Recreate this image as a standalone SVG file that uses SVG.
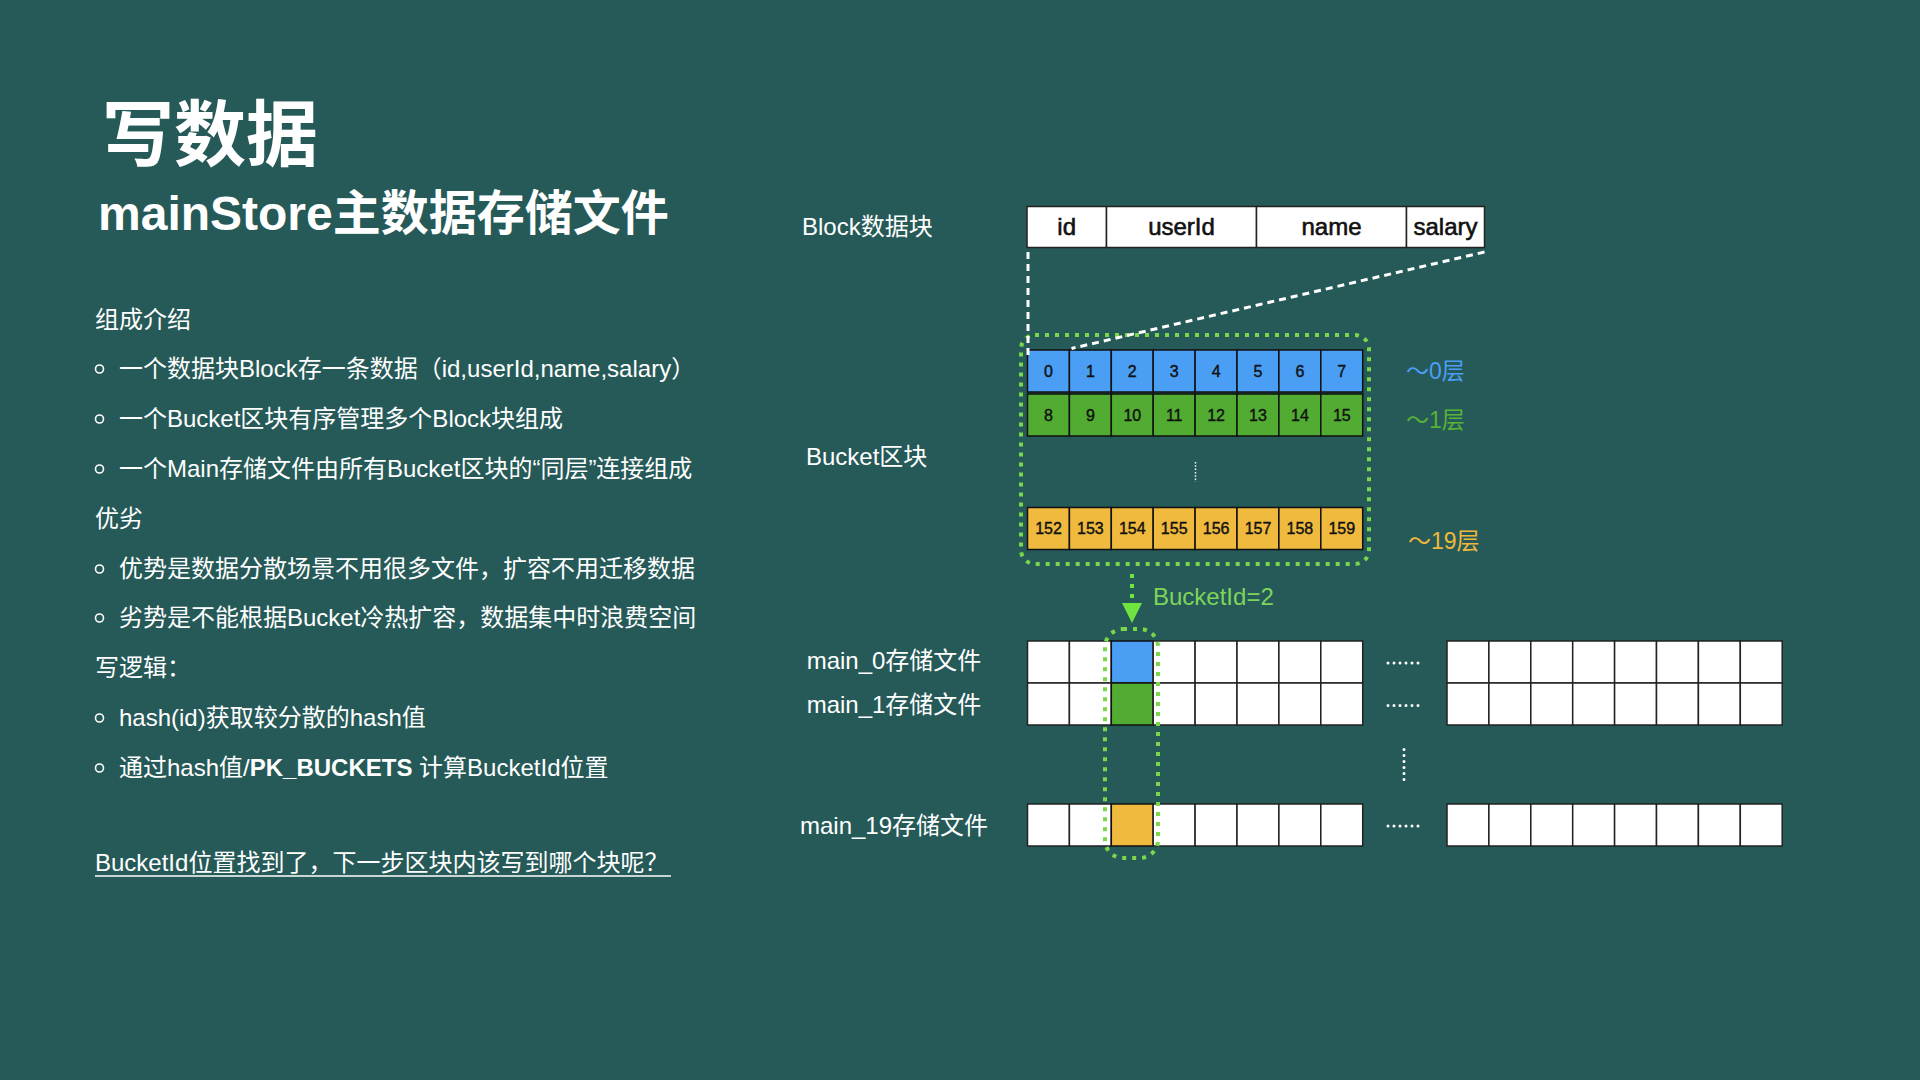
<svg xmlns="http://www.w3.org/2000/svg" width="1920" height="1080" viewBox="0 0 1920 1080">
<defs>
<style>
text{font-family:"Liberation Sans","Noto Sans CJK SC",sans-serif;fill:#ffffff}
.title{font-size:72px;font-weight:bold}
.sub{font-size:48px;font-weight:bold}
.body{font-size:24px}
.lbl{font-size:24px}
.hdr{font-size:24px;fill:#111;text-anchor:middle;stroke:#111;stroke-width:0.6}
.num{font-size:16px;fill:#111;text-anchor:middle;stroke:#111;stroke-width:0.4}
.cellw{fill:#ffffff;stroke:#222;stroke-width:1.5}
.cb{fill:#4a9ef4;stroke:#111;stroke-width:1.5}
.cg{fill:#52ac32;stroke:#111;stroke-width:1.5}
.co{fill:#efba3e;stroke:#111;stroke-width:1.5}
.bullet{fill:none;stroke:#fff;stroke-width:1.6}
.gdot{fill:none;stroke:#7ad64a;stroke-width:4;stroke-dasharray:4 6}
.wdash{fill:none;stroke:#fff;stroke-width:3;stroke-dasharray:7 5}
.dots{stroke:#fff;stroke-width:3;stroke-linecap:round;stroke-dasharray:0 6}
</style>
<marker id="ah" markerWidth="20" markerHeight="20" refX="19" refY="10" orient="auto" markerUnits="userSpaceOnUse" viewBox="0 0 20 20">
<path d="M0,0 L20,10 L0,20 Z" fill="#6fe33f"/>
</marker>
</defs>
<rect x="0" y="0" width="1920" height="1080" fill="#265a58"/>

<g id="left-text">
<text class="title" x="102" y="160">写数据</text>
<text class="sub" x="98" y="230">mainStore主数据存储文件</text>
<text class="body" x="95" y="328">组成介绍</text>
<circle class="bullet" cx="99.5" cy="369" r="4"/>
<text class="body" x="119" y="377">一个数据块Block存一条数据（id,userId,name,salary）</text>
<circle class="bullet" cx="99.5" cy="419" r="4"/>
<text class="body" x="119" y="427">一个Bucket区块有序管理多个Block块组成</text>
<circle class="bullet" cx="99.5" cy="469" r="4"/>
<text class="body" x="119" y="477">一个Main存储文件由所有Bucket区块的“同层”连接组成</text>
<text class="body" x="95" y="527">优劣</text>
<circle class="bullet" cx="99.5" cy="569" r="4"/>
<text class="body" x="119" y="577">优势是数据分散场景不用很多文件，扩容不用迁移数据</text>
<circle class="bullet" cx="99.5" cy="618" r="4"/>
<text class="body" x="119" y="626">劣势是不能根据Bucket冷热扩容，数据集中时浪费空间</text>
<text class="body" x="95" y="676">写逻辑：</text>
<circle class="bullet" cx="99.5" cy="718" r="4"/>
<text class="body" x="119" y="726">hash(id)获取较分散的hash值</text>
<circle class="bullet" cx="99.5" cy="768" r="4"/>
<text class="body" x="119" y="776">通过hash值/<tspan font-weight="bold">PK_BUCKETS</tspan> 计算BucketId位置</text>
<text class="body" x="95" y="871">BucketId位置找到了，下一步区块内该写到哪个块呢？</text>
<line x1="95" y1="876" x2="671" y2="876" stroke="#fff" stroke-width="1.5"/>
</g>

<g id="labels">
<text class="lbl" x="802" y="235">Block数据块</text>
<text class="lbl" x="806" y="465">Bucket区块</text>
<text class="lbl" x="894" y="669" text-anchor="middle">main_0存储文件</text>
<text class="lbl" x="894" y="713" text-anchor="middle">main_1存储文件</text>
<text class="lbl" x="894" y="834" text-anchor="middle">main_19存储文件</text>
<text x="1406" y="379" font-size="23" style="fill:#4a9ef4">～0层</text>
<text x="1406" y="428" font-size="23" style="fill:#58b236">～1层</text>
<text x="1408" y="549" font-size="23" style="fill:#efb83c">～19层</text>
</g>

<g id="block-table">
<rect class="cellw" x="1027" y="206.5" width="79.5" height="41"/>
<rect class="cellw" x="1106.5" y="206.5" width="150" height="41"/>
<rect class="cellw" x="1256.5" y="206.5" width="150" height="41"/>
<rect class="cellw" x="1406.5" y="206.5" width="78" height="41"/>
<text class="hdr" x="1066.7" y="235">id</text>
<text class="hdr" x="1181.5" y="235">userId</text>
<text class="hdr" x="1331.5" y="235">name</text>
<text class="hdr" x="1445.5" y="235">salary</text>
</g>

<g id="bucket">
<g id="row0">
<rect class="cb" x="1027.5" y="350" width="41.9" height="42"/>
<rect class="cb" x="1069.4" y="350" width="41.9" height="42"/>
<rect class="cb" x="1111.3" y="350" width="41.9" height="42"/>
<rect class="cb" x="1153.2" y="350" width="41.9" height="42"/>
<rect class="cb" x="1195.1" y="350" width="41.9" height="42"/>
<rect class="cb" x="1237" y="350" width="41.9" height="42"/>
<rect class="cb" x="1278.9" y="350" width="41.9" height="42"/>
<rect class="cb" x="1320.8" y="350" width="41.9" height="42"/>
<text class="num" x="1048.5" y="377">0</text>
<text class="num" x="1090.4" y="377">1</text>
<text class="num" x="1132.3" y="377">2</text>
<text class="num" x="1174.2" y="377">3</text>
<text class="num" x="1216.1" y="377">4</text>
<text class="num" x="1258" y="377">5</text>
<text class="num" x="1299.9" y="377">6</text>
<text class="num" x="1341.8" y="377">7</text>
</g>
<g id="row1">
<rect class="cg" x="1027.5" y="394" width="41.9" height="42"/>
<rect class="cg" x="1069.4" y="394" width="41.9" height="42"/>
<rect class="cg" x="1111.3" y="394" width="41.9" height="42"/>
<rect class="cg" x="1153.2" y="394" width="41.9" height="42"/>
<rect class="cg" x="1195.1" y="394" width="41.9" height="42"/>
<rect class="cg" x="1237" y="394" width="41.9" height="42"/>
<rect class="cg" x="1278.9" y="394" width="41.9" height="42"/>
<rect class="cg" x="1320.8" y="394" width="41.9" height="42"/>
<text class="num" x="1048.5" y="421">8</text>
<text class="num" x="1090.4" y="421">9</text>
<text class="num" x="1132.3" y="421">10</text>
<text class="num" x="1174.2" y="421">11</text>
<text class="num" x="1216.1" y="421">12</text>
<text class="num" x="1258" y="421">13</text>
<text class="num" x="1299.9" y="421">14</text>
<text class="num" x="1341.8" y="421">15</text>
</g>
<line x1="1195.5" y1="462" x2="1195.5" y2="482" stroke="#fff" stroke-width="1.5" stroke-dasharray="1.5 1.8"/>
<g id="row19">
<rect class="co" x="1027.5" y="507.5" width="41.9" height="42"/>
<rect class="co" x="1069.4" y="507.5" width="41.9" height="42"/>
<rect class="co" x="1111.3" y="507.5" width="41.9" height="42"/>
<rect class="co" x="1153.2" y="507.5" width="41.9" height="42"/>
<rect class="co" x="1195.1" y="507.5" width="41.9" height="42"/>
<rect class="co" x="1237" y="507.5" width="41.9" height="42"/>
<rect class="co" x="1278.9" y="507.5" width="41.9" height="42"/>
<rect class="co" x="1320.8" y="507.5" width="41.9" height="42"/>
<text class="num" x="1048.5" y="534">152</text>
<text class="num" x="1090.4" y="534">153</text>
<text class="num" x="1132.3" y="534">154</text>
<text class="num" x="1174.2" y="534">155</text>
<text class="num" x="1216.1" y="534">156</text>
<text class="num" x="1258" y="534">157</text>
<text class="num" x="1299.9" y="534">158</text>
<text class="num" x="1341.8" y="534">159</text>
</g>
<rect class="gdot" x="1021" y="335" width="348" height="229" rx="14"/>
</g>

<g id="main-files">
<g id="main0">
<rect class="cellw" x="1027.5" y="641" width="41.9" height="42"/>
<rect class="cellw" x="1069.4" y="641" width="41.9" height="42"/>
<rect class="cb" x="1111.3" y="641" width="41.9" height="42"/>
<rect class="cellw" x="1153.2" y="641" width="41.9" height="42"/>
<rect class="cellw" x="1195.1" y="641" width="41.9" height="42"/>
<rect class="cellw" x="1237" y="641" width="41.9" height="42"/>
<rect class="cellw" x="1278.9" y="641" width="41.9" height="42"/>
<rect class="cellw" x="1320.8" y="641" width="41.9" height="42"/>
<line class="dots" x1="1388" y1="663" x2="1418.5" y2="663"/>
<rect class="cellw" x="1447" y="641" width="41.9" height="42"/>
<rect class="cellw" x="1488.9" y="641" width="41.9" height="42"/>
<rect class="cellw" x="1530.8" y="641" width="41.9" height="42"/>
<rect class="cellw" x="1572.7" y="641" width="41.9" height="42"/>
<rect class="cellw" x="1614.6" y="641" width="41.9" height="42"/>
<rect class="cellw" x="1656.5" y="641" width="41.9" height="42"/>
<rect class="cellw" x="1698.4" y="641" width="41.9" height="42"/>
<rect class="cellw" x="1740.3" y="641" width="41.9" height="42"/>
</g>
<g id="main1">
<rect class="cellw" x="1027.5" y="683" width="41.9" height="42"/>
<rect class="cellw" x="1069.4" y="683" width="41.9" height="42"/>
<rect class="cg" x="1111.3" y="683" width="41.9" height="42"/>
<rect class="cellw" x="1153.2" y="683" width="41.9" height="42"/>
<rect class="cellw" x="1195.1" y="683" width="41.9" height="42"/>
<rect class="cellw" x="1237" y="683" width="41.9" height="42"/>
<rect class="cellw" x="1278.9" y="683" width="41.9" height="42"/>
<rect class="cellw" x="1320.8" y="683" width="41.9" height="42"/>
<line class="dots" x1="1388" y1="705.5" x2="1418.5" y2="705.5"/>
<rect class="cellw" x="1447" y="683" width="41.9" height="42"/>
<rect class="cellw" x="1488.9" y="683" width="41.9" height="42"/>
<rect class="cellw" x="1530.8" y="683" width="41.9" height="42"/>
<rect class="cellw" x="1572.7" y="683" width="41.9" height="42"/>
<rect class="cellw" x="1614.6" y="683" width="41.9" height="42"/>
<rect class="cellw" x="1656.5" y="683" width="41.9" height="42"/>
<rect class="cellw" x="1698.4" y="683" width="41.9" height="42"/>
<rect class="cellw" x="1740.3" y="683" width="41.9" height="42"/>
</g>
<line class="dots" x1="1404" y1="749.5" x2="1404" y2="782"/>
<g id="main19">
<rect class="cellw" x="1027.5" y="804" width="41.9" height="42"/>
<rect class="cellw" x="1069.4" y="804" width="41.9" height="42"/>
<rect class="co" x="1111.3" y="804" width="41.9" height="42"/>
<rect class="cellw" x="1153.2" y="804" width="41.9" height="42"/>
<rect class="cellw" x="1195.1" y="804" width="41.9" height="42"/>
<rect class="cellw" x="1237" y="804" width="41.9" height="42"/>
<rect class="cellw" x="1278.9" y="804" width="41.9" height="42"/>
<rect class="cellw" x="1320.8" y="804" width="41.9" height="42"/>
<line class="dots" x1="1388" y1="826" x2="1418.5" y2="826"/>
<rect class="cellw" x="1447" y="804" width="41.9" height="42"/>
<rect class="cellw" x="1488.9" y="804" width="41.9" height="42"/>
<rect class="cellw" x="1530.8" y="804" width="41.9" height="42"/>
<rect class="cellw" x="1572.7" y="804" width="41.9" height="42"/>
<rect class="cellw" x="1614.6" y="804" width="41.9" height="42"/>
<rect class="cellw" x="1656.5" y="804" width="41.9" height="42"/>
<rect class="cellw" x="1698.4" y="804" width="41.9" height="42"/>
<rect class="cellw" x="1740.3" y="804" width="41.9" height="42"/>
</g>
<rect class="gdot" x="1105" y="629" width="53" height="229" rx="18"/>
</g>

<g id="connectors">
<line class="wdash" x1="1028" y1="252" x2="1028" y2="355"/>
<line class="wdash" x1="1484.5" y1="252" x2="1071.5" y2="348.5"/>
<line x1="1132" y1="574" x2="1132" y2="622" stroke="#6fe33f" stroke-width="4" stroke-dasharray="4 6" marker-end="url(#ah)"/>
<text x="1153" y="605" font-size="24" style="fill:#7ed55a">BucketId=2</text>
</g>
</svg>
